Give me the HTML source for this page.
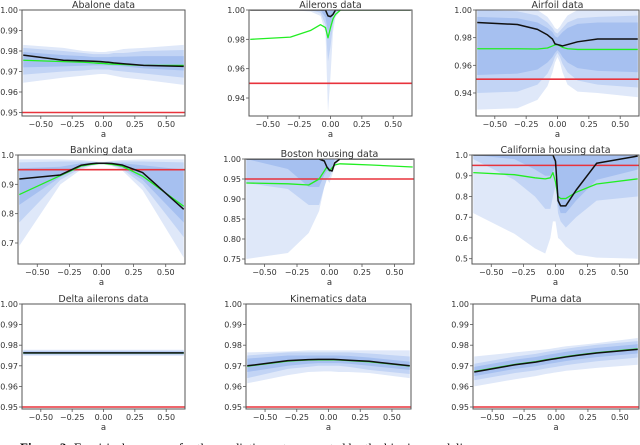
<!DOCTYPE html>
<html><head><meta charset="utf-8"><style>
html,body{margin:0;padding:0;background:#fff;width:640px;height:445px;overflow:hidden}
svg{display:block}
text{font-family:"DejaVu Sans","Liberation Sans",sans-serif;fill:#333}
.cap{font-family:"Liberation Serif",serif;font-size:13px;fill:#000}
</style></head><body>
<svg id="fig" width="640" height="445" viewBox="0 0 640 445" xmlns="http://www.w3.org/2000/svg">
<text class="cap" x="20" y="452"><tspan font-weight="bold">Figure 3:</tspan> Empirical coverage for the prediction sets generated by the binning modeling</text>
</svg>
<script>
const xs = [-0.64,-0.32,-0.16,-0.08,-0.04,-0.02,0,0.02,0.04,0.08,0.16,0.32,0.64];
const xTicks = [-0.5,-0.25,0,0.25,0.5];
const xTickLabels = ["\u22120.50","\u22120.25","0.00","0.25","0.50"];
const titles = ["Abalone data","Ailerons data","Airfoil data","Banking data","Boston housing data","California housing data","Delta ailerons data","Kinematics data","Puma data"];
const targetLevel = 0.95;

const abaloneBlack=[0.978,0.9755,0.9752,0.975,0.9749,0.9748,0.9747,0.9746,0.9745,0.9742,0.9738,0.973,0.9725];
const abaloneGreen=[0.9755,0.9748,0.9745,0.9742,0.974,0.974,0.9739,0.9738,0.9737,0.9736,0.9734,0.973,0.973];
const abaloneOLo=[0.9645,0.967,0.968,0.9685,0.9687,0.9688,0.9688,0.9687,0.9685,0.968,0.967,0.966,0.9635];
const abaloneOHi=[0.983,0.9815,0.980,0.9797,0.9795,0.9795,0.9795,0.9796,0.9798,0.980,0.981,0.9815,0.983];
const abaloneMLo=[0.9685,0.970,0.9705,0.971,0.971,0.971,0.971,0.971,0.971,0.9705,0.970,0.969,0.967];
const abaloneMHi=[0.9815,0.980,0.979,0.9785,0.9785,0.9785,0.9785,0.9785,0.9785,0.979,0.979,0.980,0.9805];
const abaloneILo=[0.972,0.9725,0.9728,0.973,0.973,0.973,0.973,0.973,0.973,0.9728,0.9725,0.9715,0.9705];
const abaloneIHi=[0.9795,0.978,0.9775,0.977,0.977,0.977,0.977,0.977,0.977,0.9772,0.9772,0.9775,0.9775];

const aileronsBlack=[1,1,1,1,1,0.996,0.9955,0.997,1,1,1,1,1];
const aileronsGreen=[0.980,0.9815,0.986,0.990,0.988,0.981,0.988,0.994,0.997,1,1,1,1];
const aileronsOLo=[1,1,0.999,0.996,0.985,0.93,0.955,0.985,0.995,1,1,1,1];
const aileronsOHi=[1,1,1,1,1,1,1,1,1,1,1,1,1];
const aileronsMLo=[1,1,1,0.998,0.99,0.965,0.975,0.99,0.998,1,1,1,1];
const aileronsMHi=[1,1,1,1,1,1,1,1,1,1,1,1,1];
const aileronsILo=[1,1,1,1,0.995,0.985,0.99,0.996,1,1,1,1,1];
const aileronsIHi=[1,1,1,1,1,1,1,1,1,1,1,1,1];

const airfoilBlack=[0.991,0.9895,0.986,0.982,0.979,0.9755,0.975,0.9745,0.974,0.975,0.977,0.979,0.979];
const airfoilGreen=[0.972,0.972,0.9718,0.9725,0.974,0.9748,0.975,0.974,0.973,0.972,0.9715,0.9715,0.9715];
const airfoilOLo=[0.928,0.929,0.935,0.945,0.955,0.962,0.966,0.962,0.955,0.946,0.941,0.94,0.937];
const airfoilOHi=[1,1,1,0.995,0.99,0.987,0.986,0.988,0.991,0.996,1,1,1];
const airfoilMLo=[0.94,0.941,0.946,0.954,0.961,0.966,0.969,0.966,0.961,0.955,0.949,0.946,0.944];
const airfoilMHi=[1,0.999,0.996,0.991,0.987,0.984,0.983,0.985,0.987,0.991,0.994,0.995,0.996];
const airfoilILo=[0.953,0.954,0.957,0.962,0.966,0.969,0.971,0.969,0.966,0.962,0.958,0.956,0.955];
const airfoilIHi=[0.995,0.994,0.991,0.987,0.984,0.981,0.980,0.982,0.984,0.987,0.990,0.991,0.991];

const bankingBlack=[0.918,0.932,0.965,0.970,0.972,0.972,0.972,0.972,0.972,0.971,0.966,0.94,0.815];
const bankingGreen=[0.865,0.93,0.962,0.968,0.970,0.971,0.971,0.971,0.970,0.968,0.962,0.928,0.825];
const bankingOLo=[0.69,0.9,0.95,0.962,0.966,0.967,0.967,0.967,0.966,0.962,0.948,0.88,0.65];
const bankingOHi=[0.985,0.985,0.983,0.98,0.978,0.977,0.977,0.977,0.978,0.98,0.983,0.985,0.985];
const bankingMLo=[0.77,0.915,0.955,0.965,0.968,0.969,0.969,0.969,0.968,0.965,0.953,0.9,0.72];
const bankingMHi=[0.975,0.978,0.978,0.977,0.976,0.975,0.975,0.975,0.976,0.977,0.978,0.978,0.975];
const bankingILo=[0.83,0.925,0.96,0.967,0.969,0.97,0.97,0.97,0.969,0.967,0.958,0.915,0.77];
const bankingIHi=[0.955,0.96,0.972,0.974,0.974,0.974,0.974,0.974,0.974,0.974,0.972,0.965,0.95];

const bostonBlack=[1,1,1,1,0.995,0.98,0.972,0.97,0.99,1,1,1,1];
const bostonGreen=[0.94,0.938,0.935,0.95,0.97,0.98,0.97,0.978,0.985,0.988,0.987,0.985,0.98];
const bostonOLo=[0.75,0.765,0.815,0.87,0.93,0.95,0.94,0.96,0.98,1,1,1,1];
const bostonOHi=[1,1,1,1,1,1,1,1,1,1,1,1,1];
const bostonMLo=[0.94,0.925,0.885,0.885,0.93,0.95,0.955,0.97,0.99,1,1,1,1];
const bostonMHi=[1,1,1,1,1,1,1,1,1,1,1,1,1];
const bostonILo=[1,0.975,0.93,0.93,0.96,0.97,0.97,0.98,1,1,1,1,1];
const bostonIHi=[1,1,1,1,1,1,1,1,1,1,1,1,1];

const califBlack=[1,1,1,1,1,1,0.97,0.78,0.755,0.755,0.83,0.96,0.995];
const califGreen=[0.915,0.905,0.89,0.885,0.89,0.915,0.87,0.8,0.79,0.79,0.82,0.86,0.885];
const califOLo=[0.72,0.62,0.55,0.525,0.6,0.68,0.68,0.6,0.59,0.56,0.52,0.505,0.5];
const califOHi=[1,1,1,1,1,1,1,1,1,1,1,1,1];
const califMLo=[0.98,0.88,0.8,0.74,0.74,0.8,0.85,0.72,0.68,0.65,0.7,0.78,0.8];
const califMHi=[1,1,1,1,1,1,1,1,1,1,1,1,1];
const califILo=[1,0.98,0.93,0.9,0.9,0.92,0.95,0.76,0.72,0.72,0.78,0.88,0.93];
const califIHi=[1,1,1,1,1,1,1,1,1,1,1,1,1];

const deltaBlack=[0.9763,0.9763,0.9763,0.9763,0.9763,0.9763,0.9763,0.9763,0.9763,0.9763,0.9763,0.9763,0.9763];
const deltaGreen=[0.9762,0.9762,0.9762,0.9762,0.9762,0.9762,0.9762,0.9762,0.9762,0.9762,0.9762,0.9762,0.9762];
const deltaOLo=[0.9748,0.9748,0.9748,0.9748,0.9748,0.9748,0.9748,0.9748,0.9748,0.9748,0.9748,0.9748,0.9748];
const deltaOHi=[0.9778,0.9778,0.9778,0.9778,0.9778,0.9778,0.9778,0.9778,0.9778,0.9778,0.9778,0.9778,0.9778];
const deltaMLo=[0.9753,0.9753,0.9753,0.9753,0.9753,0.9753,0.9753,0.9753,0.9753,0.9753,0.9753,0.9753,0.9753];
const deltaMHi=[0.9773,0.9773,0.9773,0.9773,0.9773,0.9773,0.9773,0.9773,0.9773,0.9773,0.9773,0.9773,0.9773];
const deltaILo=[0.9757,0.9757,0.9757,0.9757,0.9757,0.9757,0.9757,0.9757,0.9757,0.9757,0.9757,0.9757,0.9757];
const deltaIHi=[0.9769,0.9769,0.9769,0.9769,0.9769,0.9769,0.9769,0.9769,0.9769,0.9769,0.9769,0.9769,0.9769];

const kinBlack=[0.970,0.9725,0.973,0.9731,0.9731,0.9731,0.9731,0.9731,0.9731,0.973,0.9727,0.9722,0.970];
const kinGreen=[0.9698,0.9723,0.9728,0.9729,0.9729,0.9729,0.9729,0.9729,0.9729,0.9728,0.9725,0.972,0.9699];
const kinOLo=[0.9615,0.9655,0.967,0.9672,0.9673,0.9673,0.9673,0.9673,0.9672,0.967,0.967,0.9665,0.964];
const kinOHi=[0.9765,0.977,0.9775,0.9775,0.9775,0.9775,0.9775,0.9775,0.9775,0.9775,0.9775,0.9775,0.9775];
const kinMLo=[0.964,0.9685,0.9695,0.970,0.970,0.970,0.970,0.970,0.970,0.970,0.9695,0.968,0.966];
const kinMHi=[0.975,0.9765,0.9765,0.9765,0.9765,0.9765,0.9765,0.9765,0.9765,0.9765,0.9765,0.976,0.9745];
const kinILo=[0.967,0.970,0.971,0.9713,0.9713,0.9713,0.9713,0.9713,0.9713,0.9713,0.971,0.970,0.968];
const kinIHi=[0.9735,0.975,0.975,0.975,0.975,0.975,0.975,0.975,0.975,0.975,0.9748,0.974,0.972];

const pumaBlack=[0.967,0.9705,0.9718,0.9727,0.9731,0.9733,0.9735,0.9737,0.9739,0.9743,0.975,0.9762,0.978];
const pumaGreen=[0.9672,0.9707,0.972,0.9729,0.9733,0.9735,0.9737,0.9739,0.9741,0.9745,0.9752,0.9764,0.9782];
const pumaOLo=[0.960,0.9635,0.965,0.966,0.9664,0.9666,0.9668,0.967,0.9672,0.9676,0.968,0.969,0.9705];
const pumaOHi=[0.9745,0.9765,0.9775,0.978,0.9783,0.9785,0.9787,0.9789,0.9791,0.9795,0.980,0.981,0.9835];
const pumaMLo=[0.963,0.9665,0.9678,0.9687,0.9691,0.9693,0.9695,0.9697,0.9699,0.9703,0.971,0.9722,0.974];
const pumaMHi=[0.971,0.9745,0.9758,0.9767,0.9771,0.9773,0.9775,0.9777,0.9779,0.9783,0.979,0.9802,0.982];
const pumaILo=[0.965,0.9685,0.9698,0.9707,0.9711,0.9713,0.9715,0.9717,0.9719,0.9723,0.973,0.9742,0.976];
const pumaIHi=[0.9695,0.973,0.9743,0.9752,0.9756,0.9758,0.976,0.9762,0.9764,0.9768,0.9775,0.9787,0.9805];

const yTicksA=[0.95,0.96,0.97,0.98,0.99,1.00];
const yTicksB=[0.94,0.96,0.98,1.00];
const yTicksC=[0.7,0.8,0.9,1.0];
const yTicksD=[0.75,0.80,0.85,0.90,0.95,1.00];
const yTicksE=[0.5,0.6,0.7,0.8,0.9,1.0];

const NS="http://www.w3.org/2000/svg";
const svg=document.getElementById('fig');
const layouts=[
 {L:22,R:185,T:10,B:116,yTop:1,ppu:2050,ticks:yTicksA,dec:2,name:'abalone',d:[abaloneBlack,abaloneGreen,abaloneOLo,abaloneOHi,abaloneMLo,abaloneMHi,abaloneILo,abaloneIHi]},
 {L:249,R:412,T:10,B:116,yTop:1,ppu:1467,ticks:yTicksB,dec:2,name:'ailerons',d:[aileronsBlack,aileronsGreen,aileronsOLo,aileronsOHi,aileronsMLo,aileronsMHi,aileronsILo,aileronsIHi]},
 {L:476,R:639,T:10,B:116,yTop:1,ppu:1383,ticks:yTicksB,dec:2,name:'airfoil',d:[airfoilBlack,airfoilGreen,airfoilOLo,airfoilOHi,airfoilMLo,airfoilMHi,airfoilILo,airfoilIHi]},
 {L:18,R:185,T:155,B:264,yTop:1,ppu:293.3,ticks:yTicksC,dec:1,name:'banking',d:[bankingBlack,bankingGreen,bankingOLo,bankingOHi,bankingMLo,bankingMHi,bankingILo,bankingIHi]},
 {L:245,R:414,T:159,B:264,yTop:1,ppu:400,ticks:yTicksD,dec:2,name:'boston',d:[bostonBlack,bostonGreen,bostonOLo,bostonOHi,bostonMLo,bostonMHi,bostonILo,bostonIHi]},
 {L:472,R:639,T:155,B:264,yTop:1,ppu:207.4,ticks:yTicksE,dec:1,name:'california',d:[califBlack,califGreen,califOLo,califOHi,califMLo,califMHi,califILo,califIHi]},
 {L:22,R:185,T:304,B:409,yTop:1,ppu:2060,ticks:yTicksA,dec:2,name:'delta-ailerons',d:[deltaBlack,deltaGreen,deltaOLo,deltaOHi,deltaMLo,deltaMHi,deltaILo,deltaIHi]},
 {L:246,R:411,T:304,B:409,yTop:1,ppu:2060,ticks:yTicksA,dec:2,name:'kinematics',d:[kinBlack,kinGreen,kinOLo,kinOHi,kinMLo,kinMHi,kinILo,kinIHi]},
 {L:473,R:639,T:304,B:409,yTop:1,ppu:2060,ticks:yTicksA,dec:2,name:'puma',d:[pumaBlack,pumaGreen,pumaOLo,pumaOHi,pumaMLo,pumaMHi,pumaILo,pumaIHi]}
];
function mk(tag,attrs,parent){const e=document.createElementNS(NS,tag);for(const k in attrs)e.setAttribute(k,attrs[k]);(parent||svg).appendChild(e);return e;}
layouts.forEach((p,i)=>{
  const xAt=v=>p.L+(v+0.65)/1.3*(p.R-p.L);
  const yAt=v=>p.T+(p.yTop-v)*p.ppu;
  const g=mk('g',{});
  
  
  const cp=mk('clipPath',{id:'c'+i},g);
  mk('rect',{x:p.L,y:p.T,width:p.R-p.L,height:p.B-p.T},cp);
  const plot=mk('g',{'clip-path':'url(#c'+i+')'},g);
  const [blk,grn,oLo,oHi,mLo,mHi,iLo,iHi]=p.d;
  const band=(lo,hi,col,nm)=>{
    let s=xs.map((x,j)=>xAt(x)+','+yAt(hi[j])).join(' ');
    s+=' '+xs.map((x,j)=>xAt(x)+','+yAt(lo[j])).reverse().join(' ');
    const e=mk('polygon',{points:s,fill:col},plot);
    
    
  };
  band(oLo,oHi,'#dfe8f9','outer-band');
  band(mLo,mHi,'#c2d4f5','middle-band');
  band(iLo,iHi,'#a6c0f0','inner-band');
  const red=mk('line',{x1:p.L,x2:p.R,y1:yAt(targetLevel),y2:yAt(targetLevel),stroke:'#e8333c','stroke-width':1.6},plot);
  
  
  const line=(arr,col,w,nm)=>{
    const e=mk('polyline',{points:xs.map((x,j)=>xAt(x)+','+yAt(arr[j])).join(' '),fill:'none',stroke:col,'stroke-width':w,'stroke-linejoin':'round'},plot);
    
    
  };
  line(grn,'#22ee22',1.3,'green-coverage-line');
  line(blk,'#111',1.5,'black-coverage-line');
  const fr=mk('rect',{x:p.L,y:p.T,width:p.R-p.L,height:p.B-p.T,fill:'none',stroke:'#555','stroke-width':1},g);
  
  
  p.ticks.forEach(t=>{
    const y=yAt(t);
    mk('line',{x1:p.L-3,x2:p.L,y1:y,y2:y,stroke:'#555','stroke-width':0.8},g);
    const tx=mk('text',{x:p.L-4,y:y+3,'font-size':8,'text-anchor':'end'},g);
    tx.textContent=t.toFixed(p.dec);
    
    
  });
  xTicks.forEach((t,k)=>{
    const x=xAt(t);
    mk('line',{x1:x,x2:x,y1:p.B,y2:p.B+3,stroke:'#555','stroke-width':0.8},g);
    const tx=mk('text',{x:x,y:p.B+11,'font-size':8,'text-anchor':'middle'},g);
    tx.textContent=xTickLabels[k];
    
    
  });
  const xl=mk('text',{x:(p.L+p.R)/2,y:p.B+21,'font-size':8.5,'text-anchor':'middle'},g);
  xl.textContent='a';
  
  
  const tt=mk('text',{x:(p.L+p.R)/2,y:p.T-2,'font-size':9.5,'text-anchor':'middle'},g);
  tt.textContent=titles[i];
  
  
});
</script>
</body></html>
